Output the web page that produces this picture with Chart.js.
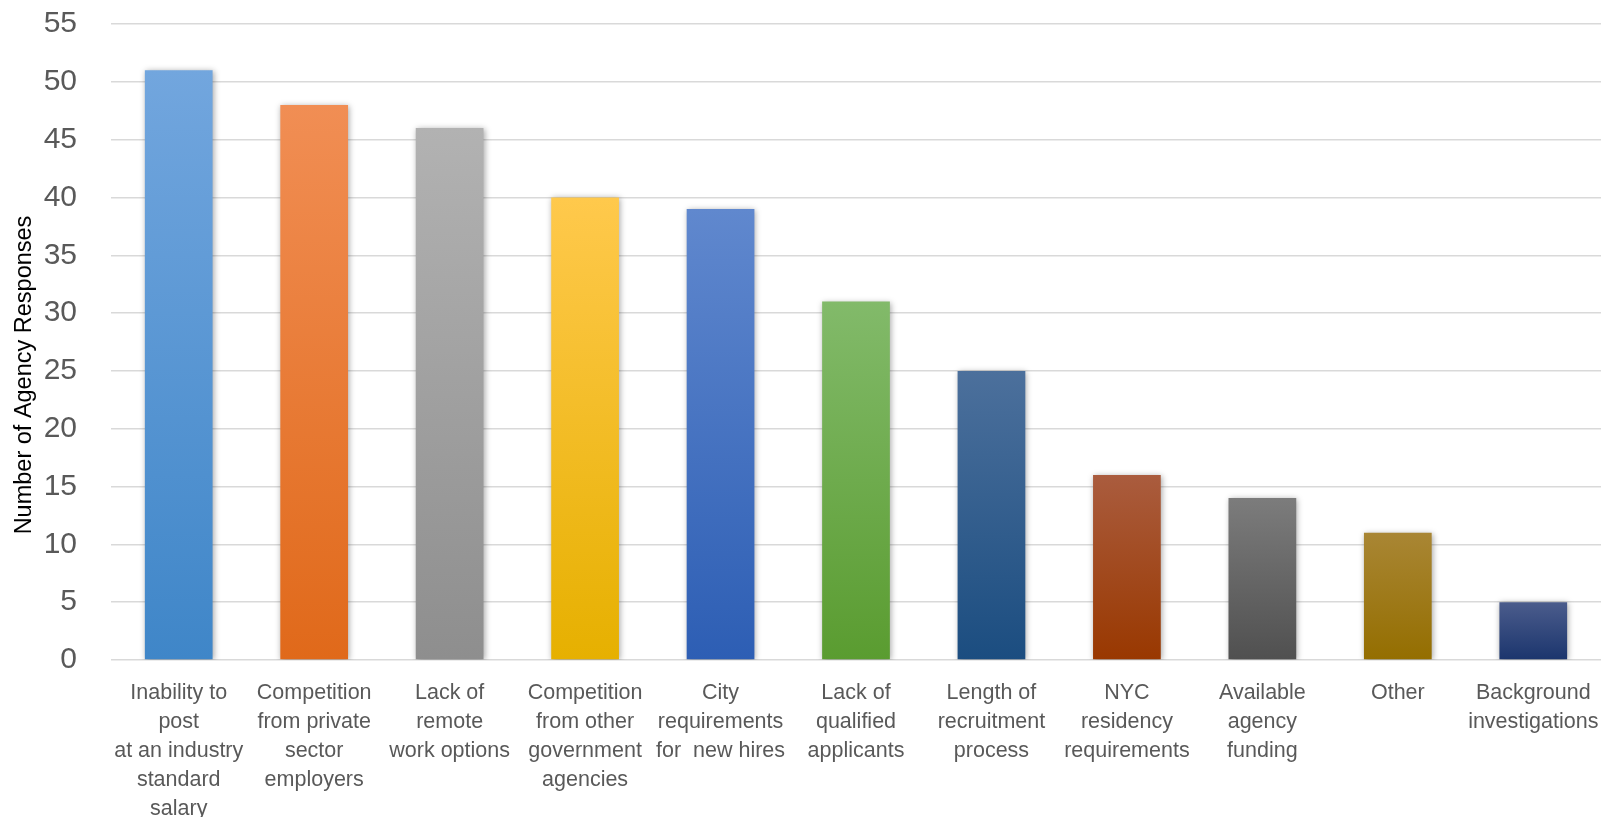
<!DOCTYPE html>
<html>
<head>
<meta charset="utf-8">
<script src="https://cdn.jsdelivr.net/npm/chart.js@4/dist/chart.umd.min.js"></script>
<style>
  html, body { margin: 0; padding: 0; background: #fff; }
  #wrap { width: 1602px; height: 817px; }
</style>
</head>
<body>
<div id="wrap"><canvas id="mainChart" width="1602" height="817"></canvas></div>
<script>
// Data
const categories = [
    ['Inability to', 'post', 'at an industry', 'standard', 'salary'],
    ['Competition', 'from private', 'sector', 'employers'],
    ['Lack of', 'remote', 'work options'],
    ['Competition', 'from other', 'government', 'agencies'],
    ['City', 'requirements', 'for  new hires'],
    ['Lack of', 'qualified', 'applicants'],
    ['Length of', 'recruitment', 'process'],
    ['NYC', 'residency', 'requirements'],
    ['Available', 'agency', 'funding'],
    ['Other'],
    ['Background', 'investigations']
];
const responses = [51, 48, 46, 40, 39, 31, 25, 16, 14, 11, 5];
const yTicks = [0, 5, 10, 15, 20, 25, 30, 35, 40, 45, 50, 55];
const yTitle = 'Number of Agency Responses';

// top / bottom gradient colours per bar
const topColors = ['#72A6DE', '#F18E54', '#B2B2B2', '#FFC94C', '#6088CE', '#82BA6A', '#4C709C', '#AA5C3E', '#7C7C7C', '#A98634', '#4B5C8C'];
const bottomColors = ['#3F86C8', '#E0691A', '#8E8E8E', '#E6B000', '#2D5EB4', '#5A9C30', '#1B4D80', '#993800', '#505050', '#946E00', '#1B356D'];

function barGradient(context) {
    const chart = context.chart;
    const i = context.dataIndex;
    if (!chart.chartArea || i === undefined) return topColors[i] || '#999';
    const y = chart.scales.y;
    const top = y.getPixelForValue(responses[i]);
    const base = y.getPixelForValue(0);
    const g = chart.ctx.createLinearGradient(0, top, 0, base);
    g.addColorStop(0, topColors[i]);
    g.addColorStop(1, bottomColors[i]);
    return g;
}

// soft shadow under bars
const barShadow = {
    id: 'barShadow',
    beforeDatasetsDraw(chart) {
        const c = chart.ctx;
        c.save();
        c.shadowColor = 'rgba(0,0,0,0.35)';
        c.shadowBlur = 6;
        c.shadowOffsetX = 1;
        c.shadowOffsetY = 1;
    },
    afterDatasetsDraw(chart) {
        chart.ctx.restore();
    }
};

// y axis title, sits a bit below the middle like the original
const axisTitle = {
    id: 'axisTitle',
    afterDraw(chart) {
        const c = chart.ctx;
        const area = chart.chartArea;
        c.save();
        c.translate(25, (area.top + area.bottom) / 2 + 33);
        c.rotate(-Math.PI / 2);
        c.font = '23.5px "Liberation Sans", Arial, sans-serif';
        c.fillStyle = '#000';
        c.textAlign = 'center';
        c.textBaseline = 'middle';
        c.fillText(yTitle, 0, 0);
        c.restore();
    }
};

const ctx = document.getElementById('mainChart');
new Chart(ctx, {
    type: 'bar',
    data: {
        labels: categories,
        datasets: [{
            label: yTitle,
            data: responses,
            backgroundColor: barGradient,
            borderWidth: 0,
            barPercentage: 0.5,
            categoryPercentage: 1
        }]
    },
    plugins: [barShadow, axisTitle],
    options: {
        responsive: false,
        animation: false,
        devicePixelRatio: 1,
        layout: { padding: { top: 24, right: 1, left: 0, bottom: 0 } },
        plugins: {
            legend: { display: false },
            tooltip: { enabled: false }
        },
        scales: {
            x: {
                grid: { display: false },
                border: { display: false },
                ticks: {
                    autoSkip: false,
                    maxRotation: 0,
                    minRotation: 0,
                    padding: 11,
                    color: '#595959',
                    font: { family: 'Liberation Sans, Arial, sans-serif', size: 21.5, lineHeight: '29px' }
                },
                afterFit(scale) {
                    scale.height = 157;
                    scale.paddingLeft = 0;
                    scale.paddingRight = 0;
                }
            },
            y: {
                min: 0,
                max: 55,
                afterBuildTicks(scale) { scale.ticks = yTicks.map(v => ({ value: v })); },
                grid: { color: '#D9D9D9', lineWidth: 1.5, drawTicks: false },
                border: { display: false },
                ticks: {
                    padding: 34,
                    color: '#595959',
                    font: { family: 'Liberation Sans, Arial, sans-serif', size: 30 }
                },
                afterFit(scale) {
                    scale.width = 111;
                    scale.paddingTop = 0;
                    scale.paddingBottom = 0;
                }
            }
        }
    }
});
</script>
</body>
</html>
